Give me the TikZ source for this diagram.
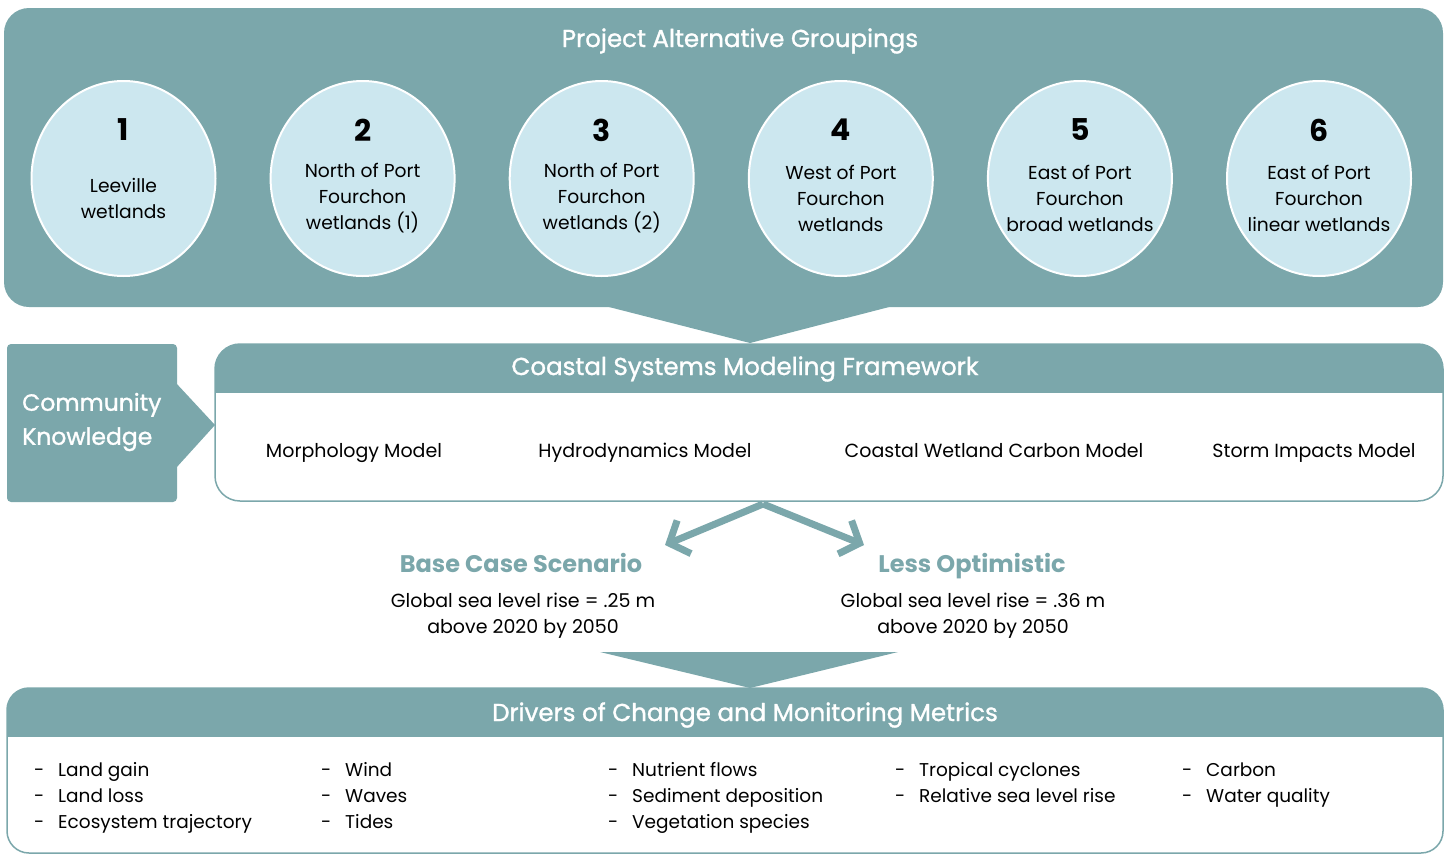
\documentclass[tikz,border=0pt]{standalone}
\usepackage{fontspec}
\setmainfont{Poppins}
\newfontfamily\headfont[FakeBold=1.2]{Poppins}
\usetikzlibrary{arrows.meta,shapes.geometric}
\definecolor{tealA}{RGB}{123,167,171}
\definecolor{circA}{RGB}{204,231,239}
\begin{document}
\begin{tikzpicture}[x=1pt,y=-1pt,
  panelfill/.style={fill=tealA},
  wetland/.style={ellipse, minimum width=184pt, minimum height=195pt, fill=circA, draw=white, line width=2pt, inner sep=0pt},
  num/.style={font=\fontsize{30}{32}\selectfont\bfseries, text=black},
  ctext/.style={font=\fontsize{18.7}{26}\selectfont, align=center, text=black},
  title/.style={font=\headfont\fontsize{24.5}{28}\selectfont, text=white},
  body/.style={font=\fontsize{19}{26}\selectfont, text height=14pt, text depth=4pt, text=black},
  scen/.style={font=\fontsize{24}{28}\selectfont\bfseries, text height=18pt, text depth=5pt, text=tealA},
  listitem/.style={font=\fontsize{18.5}{26}\selectfont, anchor=west, inner sep=0pt, text height=14pt, text depth=4pt, text=black},
  bigarrow/.style={draw=tealA, line width=7pt, -{Straight Barb[length=16pt,width=36pt]}}
]
\useasboundingbox (0,0) rectangle (1447,854);

% top panel
\fill[panelfill, rounded corners=25pt] (4,8) rectangle (1443,307);
\fill[panelfill] (605,306) -- (750,343) -- (893,306) -- cycle;
\node[title] (ptitle) at (740,41) {Project Alternative Groupings};

\foreach \i/\cx/\txt in {1/123.5/{Leeville\\wetlands},
  2/362.6/{North of Port\\Fourchon\\wetlands (1)},
  3/601.7/{North of Port\\Fourchon\\wetlands (2)},
  4/840.8/{West of Port\\Fourchon\\wetlands},
  5/1079.9/{East of Port\\Fourchon\\broad wetlands},
  6/1319/{East of Port\\Fourchon\\linear wetlands}}{
  \node[wetland] (c\i) at (\cx,178.5) {};
  \node[num] (n\i) at (\cx,130) {\i};
  \node[ctext] (t\i) at (\cx,198) {\txt};
}

% community knowledge
\fill[panelfill, rounded corners=4pt] (7,344) rectangle (177,502);
\fill[panelfill] (176,383) -- (215,425) -- (176,468) -- cycle;
\node[font=\headfont\fontsize{23.5}{34}\selectfont, text=white, align=left, anchor=west, inner sep=0pt] (ck) at (22,422) {Community\\Knowledge};

% modeling framework panel
\begin{scope}
\clip[rounded corners=25pt] (215,344) rectangle (1443,501);
\fill[white] (215,344) rectangle (1443,501);
\fill[panelfill] (215,344) rectangle (1443,393);
\end{scope}
\draw[tealA, line width=1.5pt, rounded corners=25pt] (215,344) rectangle (1443,501);
\node[title] (mtitle) at (745,369) {Coastal Systems Modeling Framework};
\node[body] (m1) at (354,452) {Morphology Model};
\node[body] (m2) at (645,452) {Hydrodynamics Model};
\node[body] (m3) at (994,452) {Coastal Wetland Carbon Model};
\node[body] (m4) at (1314,452) {Storm Impacts Model};

% scenario arrows
\coordinate (apex) at (763,504);
\coordinate (ltip) at (665,545);
\coordinate (rtip) at (864,545);
\draw[bigarrow] (apex) -- (ltip);
\draw[bigarrow] (apex) -- (rtip);

\node[scen] (s1) at (521,566) {Base Case Scenario};
\node[body, align=center, text height=, text depth=] (s1t) at (523,616) {Global sea level rise = .25 m\\above 2020 by 2050};
\node[scen] (s2) at (972,566) {Less Optimistic};
\node[body, align=center, text height=, text depth=] (s2t) at (973,616) {Global sea level rise = .36 m\\above 2020 by 2050};

% lower pointer
\fill[panelfill] (600,652) -- (750,688) -- (898,652) -- cycle;

% drivers panel
\begin{scope}
\clip[rounded corners=22pt] (7,688) rectangle (1443,853);
\fill[white] (7,688) rectangle (1443,853);
\fill[panelfill] (7,688) rectangle (1443,737);
\end{scope}
\draw[tealA, line width=1.5pt, rounded corners=22pt] (7,688) rectangle (1443,853);
\node[title] (dtitle) at (745,715) {Drivers of Change and Monitoring Metrics};

\foreach \n/\x/\y/\txt in {
  a1/34/771/{Land gain}, a2/34/797/{Land loss}, a3/34/823/{Ecosystem trajectory},
  b1/321/771/{Wind}, b2/321/797/{Waves}, b3/321/823/{Tides},
  c1/608/771/{Nutrient flows}, c2/608/797/{Sediment deposition}, c3/608/823/{Vegetation species},
  d1/895/771/{Tropical cyclones}, d2/895/797/{Relative sea level rise},
  e1/1182/771/{Carbon}, e2/1182/797/{Water quality}}{
  \node[listitem] (li\n) at (\x,\y) {\makebox[24pt][l]{-}\txt};
}
\end{tikzpicture}
\end{document}
